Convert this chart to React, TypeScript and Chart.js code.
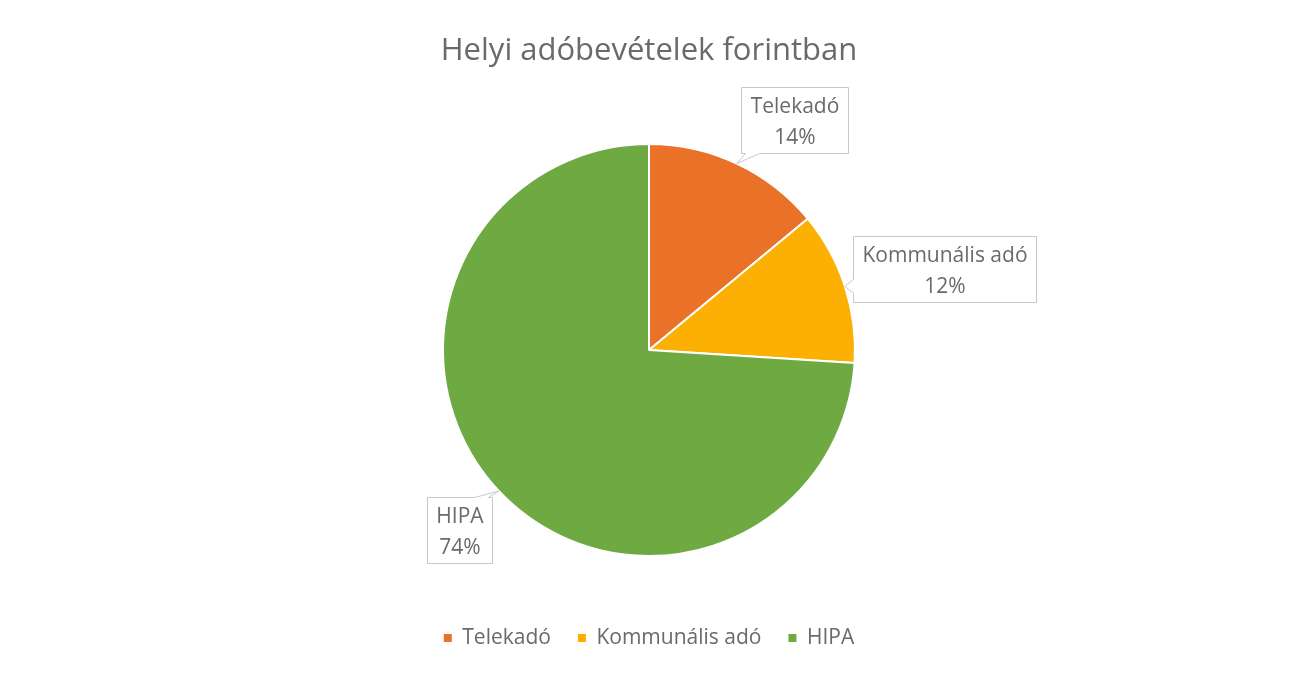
import React, { useEffect, useRef } from "react";
import { Chart, registerables } from "chart.js";

Chart.register(...registerables);

// ---- data ----
const categories: string[] = ["Telekadó", "Kommunális adó", "HIPA"];
const shares: number[] = [14, 12, 74];
const sliceColors: string[] = ["#EA7128", "#FCB004", "#6FA942"];
const chartTitle = "Helyi adóbevételek forintban";

const TEXT_COLOR = "#6a6a6a";
const FONT_FAMILY = "'Open Sans'";

// callout label plugin (Excel-like data callouts)
const calloutPlugin = {
  id: "callouts",
  afterDatasetsDraw(chart: any, _args: any, opts: any) {
    const ctx: CanvasRenderingContext2D = chart.ctx;
    const meta = chart.getDatasetMeta(0);
    const data: number[] = chart.data.datasets[0].data;
    const total = data.reduce((a, b) => a + b, 0);
    ctx.save();
    ctx.font = `${opts.fontSize}px ${FONT_FAMILY}`;
    meta.data.forEach((arc: any, i: number) => {
      const p = arc.getProps(["x", "y", "startAngle", "endAngle", "outerRadius"], true);
      const mid = (p.startAngle + p.endAngle) / 2;
      const tx = p.x + Math.cos(mid) * p.outerRadius;
      const ty = p.y + Math.sin(mid) * p.outerRadius;
      const off = opts.offsets[i];
      const cx = tx + off[0];
      const cy = ty + off[1];
      const lines = [String(chart.data.labels[i]), Math.round((data[i] / total) * 100) + "%"];
      const w = Math.round(Math.max(...lines.map((l) => ctx.measureText(l).width)) + 2 * opts.padX);
      const h = opts.height;
      const L = Math.round(cx - w / 2) + 0.5;
      const R = L + w;
      const T = Math.round(cy - h / 2) + 0.5;
      const B = T + h;
      const ex = Math.max(L - tx, tx - R, 0);
      const ey = Math.max(T - ty, ty - B, 0);
      const hw = opts.tailHalf;
      const clamp = (v: number, a: number, b: number) => Math.max(a, Math.min(b, v));
      const bx = clamp(tx, L + hw + 4, R - hw - 4);
      const by = clamp(ty, T + hw + 4, B - hw - 4);
      const pts: [number, number][] = [];
      pts.push([L, T]);
      if (ey >= ex && ty < T) pts.push([bx - hw, T], [tx, ty], [bx + hw, T]);
      pts.push([R, T]);
      if (ex > ey && tx > R) pts.push([R, by - hw], [tx, ty], [R, by + hw]);
      pts.push([R, B]);
      if (ey >= ex && ty > B) pts.push([bx + hw, B], [tx, ty], [bx - hw, B]);
      pts.push([L, B]);
      if (ex > ey && tx < L) pts.push([L, by + hw], [tx, ty], [L, by - hw]);
      ctx.beginPath();
      pts.forEach(([x, y], k) => (k === 0 ? ctx.moveTo(x, y) : ctx.lineTo(x, y)));
      ctx.closePath();
      ctx.fillStyle = "#ffffff";
      ctx.fill();
      ctx.strokeStyle = opts.borderColor;
      ctx.lineWidth = 1;
      ctx.stroke();
      ctx.fillStyle = TEXT_COLOR;
      ctx.textAlign = "center";
      ctx.textBaseline = "alphabetic";
      ctx.fillText(lines[0], L + w / 2, T + h / 2 + opts.baseline1);
      ctx.fillText(lines[1], L + w / 2, T + h / 2 + opts.baseline2);
    });
    ctx.restore();
  },
};

export default function App() {
  const ref = useRef<HTMLCanvasElement>(null);

  useEffect(() => {
    const defaultLabels = (Chart as any).overrides.pie.plugins.legend.labels.generateLabels;
    const chart = new Chart(ref.current as HTMLCanvasElement, {
      type: "pie",
      data: {
        labels: categories,
        datasets: [
          {
            data: shares,
            backgroundColor: sliceColors,
            borderColor: "#ffffff",
            borderWidth: 2,
            radius: 206,
          } as any,
        ],
      },
      options: {
        responsive: false,
        animation: false,
        layout: { padding: { left: 6, right: 0, top: 0, bottom: 18.5 } },
        plugins: {
          title: {
            display: true,
            text: chartTitle,
            color: TEXT_COLOR,
            font: { family: FONT_FAMILY, size: 31, weight: "normal" },
            padding: { top: 32.4, bottom: 29.9 },
          },
          legend: {
            position: "bottom",
            labels: {
              boxWidth: 8,
              boxHeight: 8,
              padding: 27,
              color: TEXT_COLOR,
              font: { family: FONT_FAMILY, size: 21 },
              generateLabels: (c: any) =>
                defaultLabels(c).map((it: any) => ({ ...it, lineWidth: 0 })),
            },
          },
          tooltip: { enabled: false },
          callouts: {
            fontSize: 21,
            padX: 9,
            height: 66,
            tailHalf: 7,
            baseline1: -7.5,
            baseline2: 23,
            borderColor: "#c3c8d2",
            offsets: [
              [58, -44],
              [100, -17],
              [-39, 39],
            ],
          },
        } as any,
      },
      plugins: [calloutPlugin],
    });
    return () => chart.destroy();
  }, []);

  return (
    <div
      style={{
        position: "fixed",
        left: 0,
        top: 0,
        width: 1292,
        height: 677,
        background: "#ffffff",
        overflow: "hidden",
      }}
    >
      <canvas ref={ref} width={1292} height={677} style={{ width: 1292, height: 677, display: "block" }} />
    </div>
  );
}
